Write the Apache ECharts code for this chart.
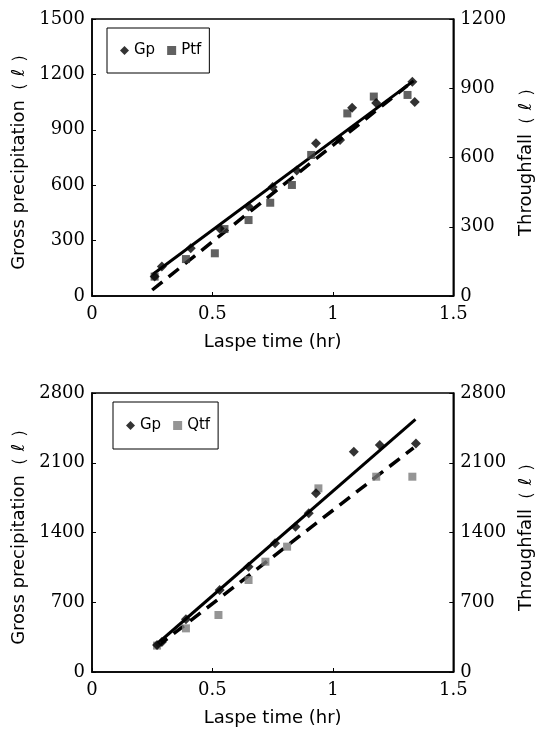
<!DOCTYPE html>
<html>
<head>
<meta charset="utf-8">
<script src="https://cdn.jsdelivr.net/npm/echarts@6/dist/echarts.min.js"></script>
<style>
  html, body { margin: 0; padding: 0; background: #fff; }
  #chart { width: 543px; height: 731px; }
</style>
</head>
<body>
<div id="chart"></div>
<script>
// top panel: Gp (left axis) and Ptf (right axis), [hr, litre]
var gpTop = [[0.26,105],[0.29,160],[0.41,258],[0.53,366],[0.65,484],[0.75,590],[0.85,680],
  [0.93,827],[1.03,845],[1.08,1020],[1.18,1045],[1.33,1160],[1.34,1050]]
var ptfTop = [[0.26,84],[0.39,160],[0.51,185],[0.55,290],[0.65,329],[0.74,404],[0.83,481],
  [0.91,611],[1.06,791],[1.17,864],[1.31,871]]
var gpFitTop = [[0.25,115],[1.335,1165]]
var ptfFitTop = [[0.25,26],[1.31,912]]

// bottom panel: Gp and Qtf
var gpBot = [[0.27,271],[0.29,300],[0.39,530],[0.53,823],[0.65,1057],[0.76,1291],[0.845,1458],
  [0.9,1592],[0.93,1793],[1.087,2211],[1.195,2278],[1.345,2294]]
var qtfBot = [[0.27,265],[0.39,438],[0.525,572],[0.65,923],[0.72,1107],[0.81,1258],[0.94,1843],
  [1.18,1960],[1.33,1960]]
var gpFitBot = [[0.265,271],[1.343,2535]]
var qtfFitBot = [[0.27,255],[1.335,2250]]

var xTicks = [0, 0.5, 1, 1.5]
var leftTop = [0, 1500, 300]
var rightTop = [0, 1200, 300]
var leftBot = [0, 2800, 700]
var rightBot = [0, 2800, 700]

var tickFont = {color:'#000', fontFamily:'DejaVu Serif', fontSize:18}
var nameFont = {color:'#000', fontFamily:'DejaVu Sans', fontSize:18}
var plain = function (v) { return String(v) }

function xAxis (idx) {
  return {
    type:'value', gridIndex:idx, min:xTicks[0], max:xTicks[xTicks.length-1], interval:0.5,
    name:'Laspe time (hr)', nameLocation:'middle', nameGap:37, nameTextStyle:nameFont,
    axisLine:{show:true, lineStyle:{color:'#000', width:1.5}},
    axisTick:{show:true, inside:true, length:4, lineStyle:{color:'#000'}},
    axisLabel:Object.assign({margin:9, formatter:plain}, tickFont),
    splitLine:{show:false},
  }
}
function yAxis (idx, pos, range, name, gap) {
  return {
    type:'value', gridIndex:idx, position:pos, min:range[0], max:range[1], interval:range[2],
    name:name, nameLocation:'middle', nameGap:gap, nameRotate:90, nameTextStyle:nameFont,
    axisLine:{show:true, lineStyle:{color:'#000', width:1.5}},
    axisTick:{show:true, inside:true, length:4, lineStyle:{color:'#000'}},
    axisLabel:Object.assign({margin:7, formatter:plain}, tickFont),
    splitLine:{show:false},
  }
}
function fit (name, x, y, data, dashed) {
  return {
    name:name, type:'line', xAxisIndex:x, yAxisIndex:y, data:data, showSymbol:false, silent:true,
    lineStyle:{color:'#000', width:dashed ? 3.5 : 3, type:dashed ? [13, 8] : 'solid'},
    z:1,
  }
}
function legend (names, left, top, padV) {
  return {
    data:names, left:left, top:top, orient:'horizontal', borderColor:'#000', borderWidth:1,
    padding:[padV,8,padV,13], itemGap:12, itemWidth:9, itemHeight:9,
    textStyle:{color:'#000', fontFamily:'DejaVu Sans', fontSize:15},
  }
}

var chart = echarts.init(document.getElementById('chart'))
chart.setOption({
  backgroundColor:'#fff',
  animation:false,
  grid:[
    {left:92, right:79, top:19, height:277, show:true, borderColor:'#000', borderWidth:1.5},
    {left:92, right:79, top:393, height:279, show:true, borderColor:'#000', borderWidth:1.5},
  ],
  legend:[
    legend(['Gp','Ptf'], 107, 28, 15),
    legend(['Gp','Qtf'], 113, 402, 16),
  ],
  xAxis:[xAxis(0), xAxis(1)],
  yAxis:[
    yAxis(0, 'left', leftTop, 'Gross precipitation\uff08 \u2113 \uff09', 57),
    yAxis(0, 'right', rightTop, 'Throughfall\uff08 \u2113 \uff09', 56),
    yAxis(1, 'left', leftBot, 'Gross precipitation\uff08 \u2113 \uff09', 57),
    yAxis(1, 'right', rightBot, 'Throughfall\uff08 \u2113 \uff09', 56),
  ],
  series:[
    fit('gpFitTop', 0, 0, gpFitTop, false),
    fit('ptfFitTop', 0, 1, ptfFitTop, true),
    {name:'Gp', type:'scatter', xAxisIndex:0, yAxisIndex:0, data:gpTop, symbol:'diamond', symbolSize:10,
      itemStyle:{color:'#000'}, z:3},
    {name:'Ptf', type:'scatter', xAxisIndex:0, yAxisIndex:1, data:ptfTop, symbol:'rect', symbolSize:8,
      itemStyle:{color:'#3a3a3a'}, z:2},
    fit('gpFitBot', 1, 2, gpFitBot, false),
    fit('qtfFitBot', 1, 3, qtfFitBot, true),
    {name:'Gp', type:'scatter', xAxisIndex:1, yAxisIndex:2, data:gpBot, symbol:'diamond', symbolSize:10,
      itemStyle:{color:'#000'}, z:3},
    {name:'Qtf', type:'scatter', xAxisIndex:1, yAxisIndex:3, data:qtfBot, symbol:'rect', symbolSize:8,
      itemStyle:{color:'#7a7a7a'}, z:2},
  ],
})
</script>
</body>
</html>
